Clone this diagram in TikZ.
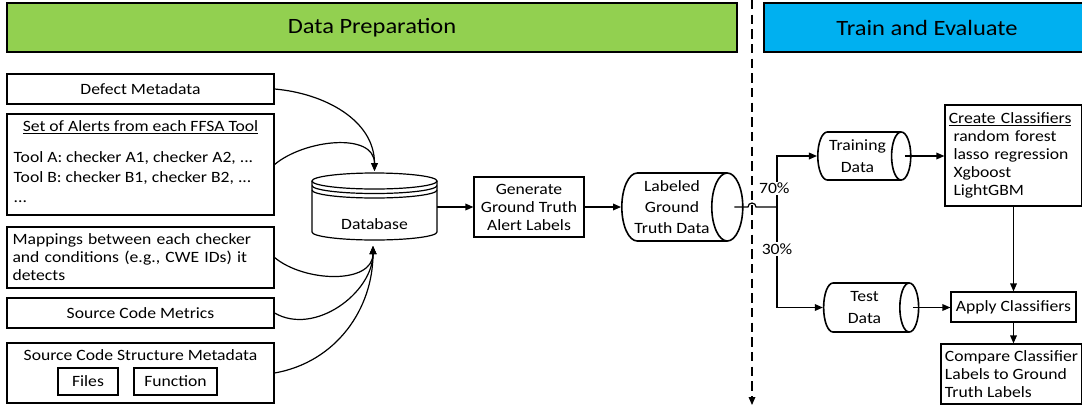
\documentclass[tikz,border=0pt]{standalone}
\usepackage{fontspec}
\setmainfont{Carlito}[FakeStretch=1.12]
\usetikzlibrary{arrows.meta, shapes.geometric, positioning}

\definecolor{prepGreen}{HTML}{92D050}
\definecolor{trainBlue}{HTML}{00B0F0}

\tikzstyle{headBar} = [draw, rectangle, line width=1pt, minimum height=36.75pt,
   font=\fontsize{16.4pt}{19pt}\selectfont]
\tikzstyle{infoBox} = [draw, rectangle, line width=0.9pt, inner sep=2pt]
% cylinder: minimum width is across the drum, minimum height along it
\tikzstyle{dataCyl} = [draw, cylinder, aspect=0.55, line width=1.2pt, align=center,
   inner sep=1pt, font=\fontsize{11.8pt}{16pt}\selectfont]
\tikzstyle{flowArrow} = [line width=0.9pt, -{Triangle[length=6pt, width=5pt]}]
\tikzstyle{plainLine} = [line width=0.9pt]

\begin{document}
\begin{tikzpicture}[x=0.75pt, y=-0.75pt, every node/.style={font=\fontsize{11.8pt}{13.5pt}\selectfont}]
  \useasboundingbox (0,0) rectangle (1082,411);

  % headers
  \node[headBar, fill=prepGreen, minimum width=547.5pt] (node_prep) at (372,27.5) {Data Preparation};
  \node[headBar, fill=trainBlue, minimum width=244.5pt] (node_eval) at (927,27.5) {Train and Evaluate};

  % divider between the two phases
  \coordinate (div_top) at (752,0);
  \coordinate (div_bot) at (752,405);
  \draw[plainLine, dash pattern=on 7pt off 4pt, -{Triangle[length=6pt, width=5pt]}] (div_top) -- (div_bot);

  % input boxes
  \node[infoBox, minimum width=200.25pt, minimum height=22.5pt] (node_defect) at (140.5,89) {Defect Metadata};
  \node[infoBox, minimum width=200.25pt, minimum height=75.75pt] (node_alerts) at (140.5,164.5) {};
  \node (alerts_title) at (140.5,127) {\underline{Set of Alerts from each FFSA Tool}};
  \node[anchor=west, align=left, font=\fontsize{11.8pt}{15pt}\selectfont] (alerts_list) at (9,177)
    {Tool A: checker A1, checker A2, ...\\Tool B: checker B1, checker B2, ...\\...};
  \node[infoBox, minimum width=200.25pt, minimum height=45.75pt, text width=192pt, align=left] (node_map) at (140.5,257.5)
    {Mappings between each checker\\and conditions (e.g., CWE IDs) it\\detects};
  \node[infoBox, minimum width=200.25pt, minimum height=22.5pt] (node_metrics) at (140.5,313) {Source Code Metrics};
  \node[infoBox, minimum width=200.25pt, minimum height=45pt] (node_struct) at (140.5,373) {};
  \node (struct_title) at (140.5,355) {Source Code Structure Metadata};
  \node[infoBox, minimum width=45pt, minimum height=20.25pt] (node_files) at (88,381.5) {Files};
  \node[infoBox, minimum width=62.25pt, minimum height=20.25pt] (node_func) at (175.5,381.5) {Function};

  % database drum
  \coordinate (db_top) at (374.5,181);
  \coordinate (db_in_top) at (374.5,171);
  \coordinate (db_in_bot) at (373,246);
  \coordinate (db_out) at (437,207);
  \draw[plainLine, fill=white] (312,181) -- (312,232) arc[start angle=180, end angle=360, x radius=46.875pt, y radius=6pt] -- (437,181);
  \draw[plainLine] (db_top) ellipse[x radius=46.875pt, y radius=6pt];
  \draw[plainLine] (312,185.5) arc[start angle=180, end angle=360, x radius=46.875pt, y radius=6pt];
  \draw[plainLine] (312,190) arc[start angle=180, end angle=360, x radius=46.875pt, y radius=6pt];
  \node (node_DB) at (374.5,224) {Database};

  % inputs into the database
  \draw[flowArrow] (node_defect.east) to[out=-5, in=90] (db_in_top);
  \draw[flowArrow] (node_alerts.east) to[out=40, in=90] (db_in_top);
  \draw[flowArrow] (node_map.east) to[out=-40, in=-90] (db_in_bot);
  \draw[flowArrow] (node_metrics.east) to[out=-30, in=-90] (db_in_bot);
  \draw[flowArrow] (node_struct.east) to[out=10, in=-90] (db_in_bot);

  \node[infoBox, minimum width=82.5pt, minimum height=45pt, align=center] (node_gen) at (529,207)
    {Generate\\Ground Truth\\Alert Labels};
  \node[dataCyl, minimum width=51pt, minimum height=82.5pt] (node_lgt) at (672,207) {Labeled\\Ground\\Truth Data};
  \draw[flowArrow] (db_out) -- (node_gen);
  \draw[flowArrow] (node_gen) -- (node_lgt);

  % split 70/30, hopping over the divider
  \coordinate (hop) at (752,207);
  \coordinate (split) at (777,207);
  \draw[plainLine] ([xshift=-7pt]node_lgt.east) -- ([xshift=-3pt]hop) arc[start angle=180, end angle=0, radius=3pt] -- (split);

  \node[dataCyl, minimum width=36pt, minimum height=69.75pt] (node_trainData) at (857.5,156) {Training\\Data};
  \node[dataCyl, minimum width=36.75pt, minimum height=71.25pt] (node_testData) at (864.5,307.5) {Test\\Data};
  \draw[flowArrow] (split) |- node[pos=0.18, fill=white, inner sep=1pt, xshift=-2pt] (lbl_train) {70\%} (node_trainData.west);
  \draw[flowArrow] (split) |- node[pos=0.21, fill=white, inner sep=1pt] (lbl_test) {30\%} (node_testData.west);

  % classifiers
  \node[infoBox, minimum width=102.75pt, minimum height=75.75pt, text width=97pt, align=left, inner xsep=2.5pt] (node_create) at (1013.5,155.5)
    {\underline{Create Classifiers}\\\hspace*{3.5pt}random forest\\\hspace*{3.5pt}lasso regression\\\hspace*{3.5pt}Xgboost\\\hspace*{3.5pt}LightGBM};
  \node[infoBox, minimum width=93.75pt, minimum height=22.5pt] (node_apply) at (1013.5,307) {Apply Classifiers};
  \node[infoBox, minimum width=105.75pt, minimum height=45pt, align=left] (node_cmp) at (1011.5,374)
    {Compare Classifier\\Labels to Ground\\Truth Labels};

  \draw[flowArrow] ([xshift=-5pt]node_trainData.east) -- (node_create.west |- node_trainData.east);
  \draw[flowArrow] ([xshift=-5pt]node_testData.east) -- (node_apply.west |- node_testData.east);
  \draw[flowArrow] (node_create) -- (node_apply);
  \draw[flowArrow] (node_apply.south) -- (node_apply.south |- node_cmp.north);
\end{tikzpicture}
\end{document}
